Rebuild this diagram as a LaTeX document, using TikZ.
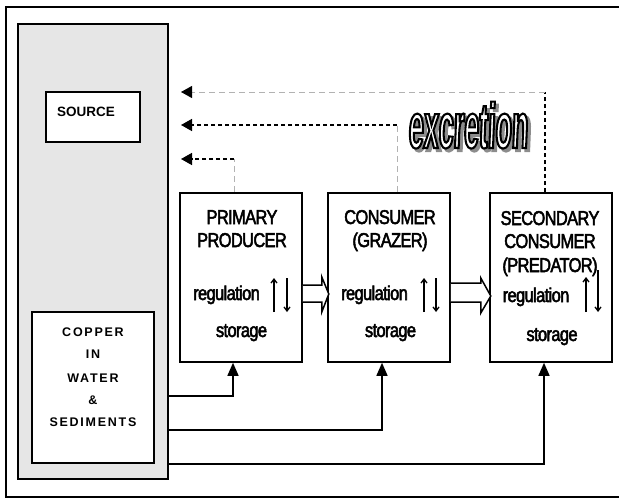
\documentclass[tikz,border=0pt]{standalone}
\usepackage{fontspec}
\setmainfont{Liberation Sans}
\newfontfamily\narrowfont[FakeStretch=0.82,FakeBold=2.5,LetterSpace=-3]{Liberation Sans}
\newfontfamily\excfont[FakeStretch=0.42,FakeSlant=0.04,FakeBold=3.2]{Liberation Sans}
\usetikzlibrary{arrows.meta,calc}
\definecolor{panelgray}{HTML}{E6E6E6}
\definecolor{shadowgray}{HTML}{8C8C8C}
\begin{document}
\begin{tikzpicture}[x=1pt,y=-1pt,
  frame/.style={draw, line width=1.5pt},
  box/.style={draw, line width=1.6pt, fill=white, minimum width=122pt, minimum height=169pt, inner sep=0pt},
  lbl/.style={font=\narrowfont\fontsize{20}{22}\selectfont, inner sep=0pt, anchor=base},
  caplbl/.style={font=\bfseries\fontsize{12.5}{14}\selectfont\addfontfeature{LetterSpace=14}, inner sep=0pt, anchor=base},
  feed/.style={line width=1.5pt, -{Triangle[length=13pt,width=11pt]}},
  dblk/.style={line width=1.5pt, dash pattern=on 4pt off 3pt, -{Triangle[length=11pt,width=12pt,color=black]}},
  dblkplain/.style={line width=1.5pt, dash pattern=on 4pt off 3pt},
  dgry/.style={line width=0.9pt, color=gray!60, dash pattern=on 6pt off 4pt},
  hollow/.style={draw, line width=1.5pt, fill=white, line join=miter},
  updown/.style={line width=1.3pt, -{Straight Barb[length=4pt,width=6pt]}},
  exc/.style={font=\excfont\bfseries\fontsize{64}{70}\selectfont, inner sep=0pt, anchor=base},
]
\useasboundingbox (0,0) rectangle (619,498);
% outer frame (right edge lies outside the picture)
\draw[frame] (630,7) -- (6,7) -- (6,497) -- (630,497);
% grey panel and its boxes
\node[draw, line width=1.5pt, fill=panelgray, minimum width=150pt, minimum height=455pt, inner sep=0pt] (panel) at (93,251.5) {};
\node[draw, line width=1.6pt, fill=white, minimum width=94pt, minimum height=50pt, inner sep=0pt] (source) at (93,117) {};
\node[font=\bfseries\fontsize{13.5}{15}\selectfont, inner sep=0pt, anchor=base west] (sourcelbl) at (57,116) {SOURCE};
\node[draw, line width=1.6pt, fill=white, minimum width=122pt, minimum height=151pt, inner sep=0pt] (copper) at (93,387.5) {};
\node[caplbl] (cu1) at (93,336) {COPPER};
\node[caplbl] (cu2) at (93,358) {IN};
\node[caplbl] (cu3) at (93,382) {WATER};
\node[caplbl] (cu4) at (93,404) {\&};
\node[caplbl] (cu5) at (93,426) {SEDIMENTS};

% trophic boxes
\node[box] (prim) at (241,277.5) {};
\node[box] (cons) at (389,277.5) {};
\node[box] (sec) at (551,277.5) {};

\node[lbl] (p1) at (242,224) {PRIMARY};
\node[lbl] (p2) at (242,247) {PRODUCER};
\node[lbl] (p3) at (226.5,300) {regulation};
\node[lbl] (p4) at (241.5,337) {storage};

\node[lbl] (c1) at (390,224) {CONSUMER};
\node[lbl] (c2) at (390,247) {(GRAZER)};
\node[lbl] (c3) at (374.5,300) {regulation};
\node[lbl] (c4) at (390.5,337) {storage};

\node[lbl] (s1) at (550,225) {SECONDARY};
\node[lbl] (s2) at (550,248) {CONSUMER};
\node[lbl] (s3) at (550,272) {(PREDATOR)};
\node[lbl] (s4) at (536,302) {regulation};
\node[lbl] (s5) at (552,341) {storage};

% up/down arrows in boxes
\draw[updown] ($(prim.center)+(33,34.5)$) -- ($(prim.center)+(33,0.5)$);
\draw[updown] ($(prim.center)+(46,0.5)$) -- ($(prim.center)+(46,34.5)$);
\draw[updown] ($(cons.center)+(35,34.5)$) -- ($(cons.center)+(35,0.5)$);
\draw[updown] ($(cons.center)+(47,0.5)$) -- ($(cons.center)+(47,34.5)$);
\draw[updown] ($(sec.center)+(35,34.5)$) -- ($(sec.center)+(35,-0.5)$);
\draw[updown] ($(sec.center)+(47,-7.5)$) -- ($(sec.center)+(47,34.5)$);

% hollow block arrows
\draw[hollow] ($(prim.east)+(0,7.5)$) -- ++(19,0) -- ++(0,-8) -- ++(7,17) -- ++(-7,18) -- ++(0,-10) -- ++(-19,0);
\draw[hollow] ($(cons.east)+(0,5.5)$) -- ++(30,0) -- ++(0,-5) -- ++(10,18) -- ++(-10,17) -- ++(0,-11) -- ++(-30,0);

% feeding lines from copper
\coordinate (f1) at (167,396);
\coordinate (f2) at (167,430);
\coordinate (f3) at (167,464);
\draw[feed] (f1) -| ($(prim.south)+(-8,0)$);
\draw[feed] (f2) -| ($(cons.south)+(-7,0)$);
\draw[feed] (f3) -| ($(sec.south)+(-7,0)$);

% excretion lines
\coordinate (e1) at (181,92);
\coordinate (e2) at (181,125);
\coordinate (e3) at (181,159);
\coordinate (k1) at ($(sec.north)+(-6,0)$);
\coordinate (k2) at ($(cons.north)+(8,0)$);
\coordinate (k3) at ($(prim.north)+(-7,0)$);
\draw[dblkplain] (k1) -- (k1 |- e1);
\draw[dgry, -{Triangle[length=11pt,width=12pt,color=black]}] (k1 |- e1) -- (e1);
\draw[dgry] (k2) -- (k2 |- e2);
\draw[dblk] (k2 |- e2) -- (e2);
\draw[dgry] (k3) -- (k3 |- e3);
\draw[dblk] (k3 |- e3) -- (e3);

% excretion word-art: shadow, then white face with black stroke
\node[exc, text=shadowgray] (excshadow) at (471,151) {excretion};
\node[exc, text=black] (exc) at (468,148) {\special{pdf:literal direct 1 g}excretion\special{pdf:literal direct 0 g}};
\end{tikzpicture}
\end{document}
